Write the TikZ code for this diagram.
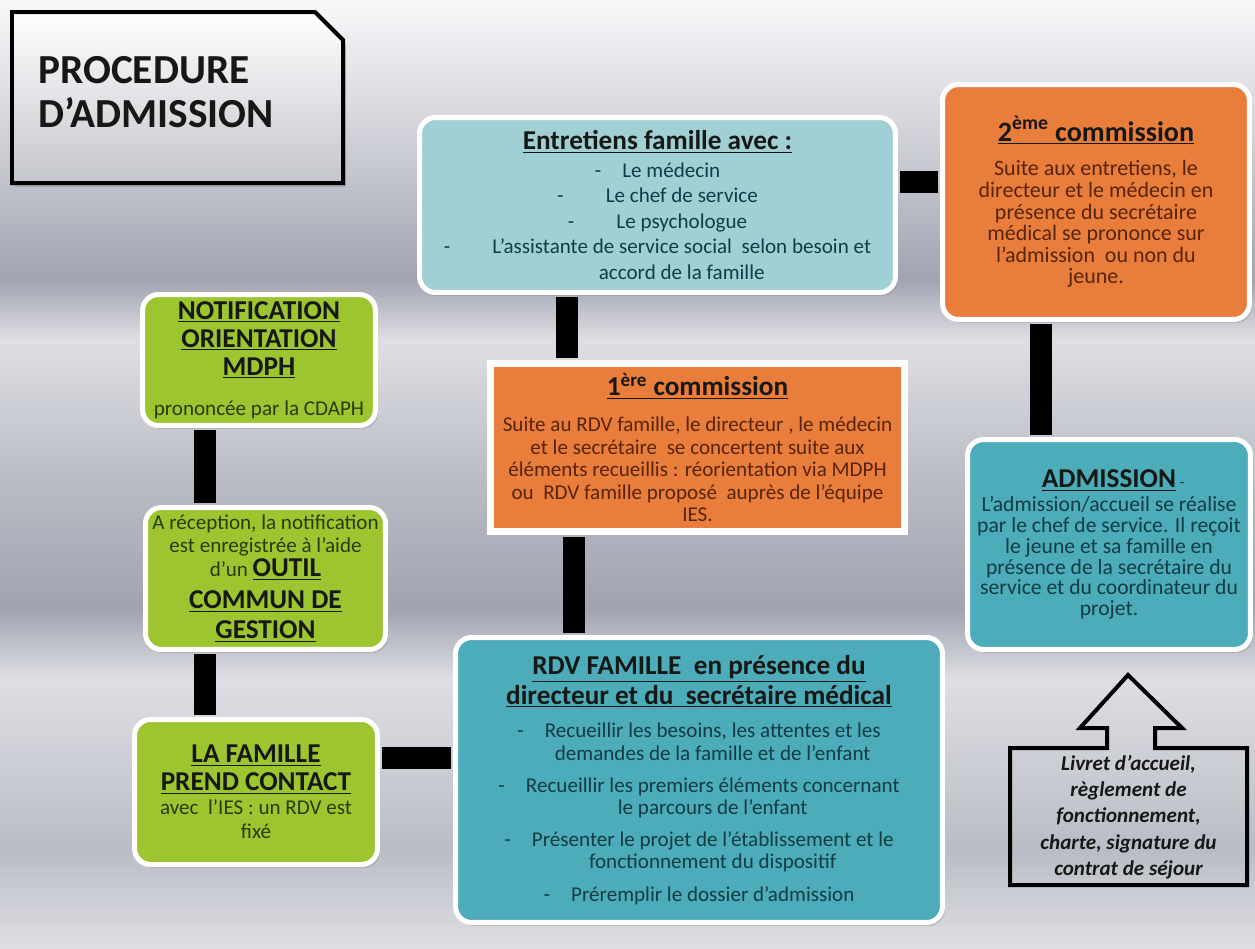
\documentclass[tikz,border=0pt]{standalone}
\usepackage{fontspec}
\setmainfont{Carlito}
\usetikzlibrary{positioning,shadows}

\definecolor{boxgreen}{RGB}{156,197,48}
\definecolor{boxorange}{RGB}{233,125,60}
\definecolor{boxteal}{RGB}{76,172,185}
\definecolor{boxpale}{RGB}{160,208,212}
\definecolor{txtgreen}{RGB}{40,60,10}
\definecolor{txtorange}{RGB}{88,36,10}
\definecolor{txtteal}{RGB}{18,60,70}
\definecolor{txttitle}{RGB}{22,24,22}
\definecolor{bgwhite}{RGB}{248,248,250}
\definecolor{bgtop}{RGB}{214,215,221}
\definecolor{bgdark}{RGB}{160,163,176}
\definecolor{bglight}{RGB}{222,223,228}
\definecolor{bgmid}{RGB}{186,188,197}
\definecolor{titlegrey}{RGB}{196,198,205}

\newcommand{\ttl}[1]{{\fontsize{15.5}{17}\selectfont\bfseries\color{txttitle}\underline{#1}}}

\tikzset{
  card/.style={draw=white, line width=0.1cm, rounded corners=0.32cm, align=center, inner sep=0pt,
    drop shadow={opacity=0.3, shadow xshift=0.05cm, shadow yshift=-0.07cm}},
  link/.style={draw=black, line width=0.44cm, shorten <=0.05cm, shorten >=0.05cm},
}

\begin{document}
\begin{tikzpicture}[x=0.02cm, y=-0.02cm]
\useasboundingbox (0,0) rectangle (1255,948);
\shade[top color=bgwhite, bottom color=bgtop] (0,0) rectangle (1255,120);
\shade[top color=bgtop, bottom color=bgdark] (0,119) rectangle (1255,280);
\shade[top color=bgdark, bottom color=bglight] (0,279) rectangle (1255,340);
\shade[top color=bglight, bottom color=bgmid] (0,339) rectangle (1255,480);
\shade[top color=bgmid, bottom color=bgdark] (0,479) rectangle (1255,610);
\shade[top color=bgdark, bottom color=bglight] (0,609) rectangle (1255,680);
\shade[top color=bglight, bottom color=bgmid] (0,679) rectangle (1255,850);
\shade[top color=bgmid, bottom color=bglight] (0,849) rectangle (1255,948);

\draw[line width=0.08cm, top color=white, bottom color=titlegrey,
  drop shadow={opacity=0.35, shadow xshift=0.06cm, shadow yshift=-0.08cm}]
  (12,12) -- (315,12) -- (343,40) -- (343,183) -- (12,183) -- cycle;
\node[anchor=west, align=left, inner sep=0pt, text=txttitle,
  font={\fontsize{23.5}{25}\selectfont\bfseries\lineskiplimit=-50pt}] (title) at (38,92.5)
  {PROCEDURE\\D’ADMISSION};

\node[card, fill=boxpale, minimum width=9.52cm, minimum height=3.5cm, text=txtteal,
  font={\fontsize{12}{14.5}\selectfont\lineskiplimit=-50pt}] (entretiens) at (657.5,205)
  {\ttl{Entretiens famille avec :}\\[1pt]
   -\quad Le médecin\\
   -\qquad Le chef de service\\
   -\qquad Le psychologue\\
   -\qquad L’assistante de service social\ \ selon besoin et\\
   \hspace*{2.3em}accord de la famille};

\node[card, fill=boxorange, minimum width=6.14cm, minimum height=4.7cm, text=txtorange,
  font={\fontsize{12.5}{12.3}\selectfont\lineskiplimit=-50pt}] (comm2) at (1096,202)
  {{\fontsize{16}{17}\selectfont\bfseries\color{txttitle}\underline{2\textsuperscript{ème} commission}}\\[7.5pt]
   Suite aux entretiens, le\\
   directeur et le médecin en\\
   présence du secrétaire\\
   médical se prononce sur\\
   l’admission\ \ ou non du\\
   jeune.};

\node[card, fill=boxgreen, minimum width=4.66cm, minimum height=2.62cm, text=txtgreen,
  font={\fontsize{12}{15.9}\selectfont\lineskiplimit=-50pt}] (notif) at (259,360)
  {\ttl{NOTIFICATION}\\
   \ttl{ORIENTATION}\\
   \ttl{MDPH}\\[7pt]
   prononcée par la CDAPH};

\node[card, rounded corners=0pt, line width=0.14cm, fill=boxorange, minimum width=8.28cm,
  minimum height=3.36cm, text=txtorange,
  font={\fontsize{12}{12.8}\selectfont\lineskiplimit=-50pt}] (comm1) at (697.5,447.5)
  {\ttl{1\textsuperscript{ère} commission}\\[8pt]
   Suite au RDV famille, le directeur , le médecin\\
   et le secrétaire\ \ se concertent suite aux\\
   éléments recueillis : réorientation via MDPH\\
   ou\ \ RDV famille proposé\ \ auprès de l’équipe\\
   IES.};

\node[card, fill=boxteal, minimum width=5.66cm, minimum height=4.2cm, text=txtteal,
  font={\fontsize{12.3}{11.8}\selectfont\lineskiplimit=-50pt}] (admission) at (1109,544.5)
  {\ttl{ADMISSION}\rlap{\fontsize{9}{9}\selectfont\ -}\\[2pt]
   L’admission/accueil se réalise\\
   par le chef de service. Il reçoit\\
   le jeune et sa famille en\\
   présence de la secrétaire du\\
   service et du coordinateur du\\
   projet.};

\node[card, fill=boxgreen, minimum width=4.8cm, minimum height=2.84cm, text=txtgreen,
  font={\fontsize{12}{13}\selectfont\lineskiplimit=-50pt}] (outil) at (265.5,578.5)
  {A réception, la notification\\
   est enregistrée à l’aide\\[1pt]
   d’un \ttl{OUTIL}\\[5pt]
   \ttl{COMMUN DE}\\[4pt]
   \ttl{GESTION}};

\node[card, fill=boxteal, minimum width=9.74cm, minimum height=5.7cm, text=txtteal,
  font={\fontsize{12}{12.7}\selectfont\lineskiplimit=-50pt}] (rdv) at (699,780)
  {\ttl{RDV FAMILLE\ \ en présence du}\\[4.3pt]
   \ttl{directeur et du\ \ secrétaire médical}\\[6.5pt]
   -\quad Recueillir les besoins, les attentes et les\\
   \hspace*{1.3em}demandes de la famille et de l’enfant\\[5.5pt]
   -\quad Recueillir les premiers éléments concernant\\
   \hspace*{1.3em}le parcours de l’enfant\\[5.5pt]
   -\quad Présenter le projet de l’établissement et le\\
   \hspace*{1.3em}fonctionnement du dispositif\\[6pt]
   -\quad Préremplir le dossier d’admission};

\node[card, fill=boxgreen, minimum width=4.86cm, minimum height=2.9cm, text=txtgreen,
  font={\fontsize{12}{13.6}\selectfont\lineskiplimit=-50pt}] (famille) at (256,792)
  {\ttl{LA FAMILLE}\\[2.3pt]
   \ttl{PREND CONTACT}\\
   avec\ \ l’IES : un RDV est\\
   fixé};

\draw[line width=0.08cm, black] (1010,748) -- (1107,748) -- (1107,728) -- (1080,728)
  -- (1128,675) -- (1182,728) -- (1155,728) -- (1155,748) -- (1247,748)
  -- (1247,885) -- (1010,885) -- cycle;
\node[align=center, inner sep=0pt, text=txttitle,
  font={\fontsize{12}{14.9}\selectfont\bfseries\itshape\lineskiplimit=-50pt}] (livret) at (1128.5,817)
  {Livret d’accueil,\\ règlement de\\ fonctionnement,\\ charte, signature du\\ contrat de séjour};

\coordinate (colA) at (567,0);
\coordinate (colB) at (574,0);
\coordinate (colC) at (1041,0);
\coordinate (colD) at (205,0);
\coordinate (rowA) at (0,182);
\coordinate (rowB) at (0,758);

\draw[link] (entretiens.south -| colA) -- (comm1.north -| colA);
\draw[link] (comm1.south -| colB) -- (rdv.north -| colB);
\draw[link] (entretiens.east |- rowA) -- (comm2.west |- rowA);
\draw[link] (comm2.south -| colC) -- (admission.north -| colC);
\draw[link] (notif.south -| colD) -- (outil.north -| colD);
\draw[link] (outil.south -| colD) -- (famille.north -| colD);
\draw[link] (famille.east |- rowB) -- (rdv.west |- rowB);
\end{tikzpicture}
\end{document}
